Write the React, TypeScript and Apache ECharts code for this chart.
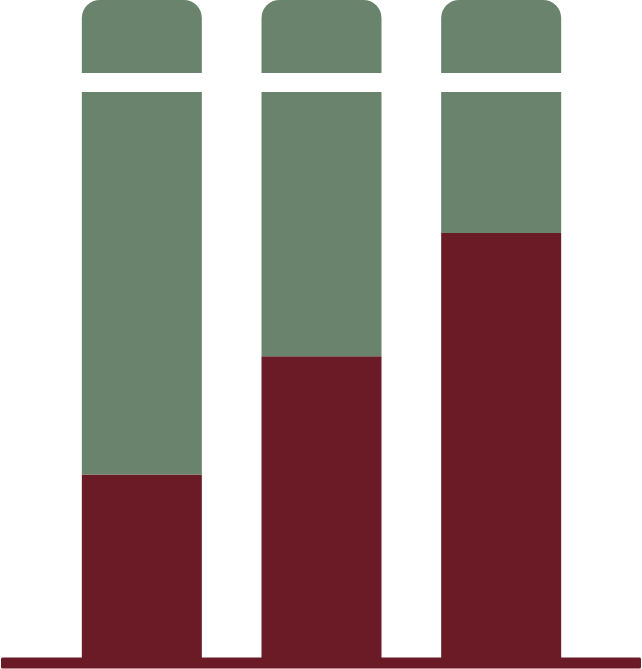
import React, { useEffect, useRef } from "react";
import * as echarts from "echarts";

const categories = ["A", "B", "C"];
const lowerValues = [33, 53.7, 75.3];
const upperValues = [67, 46.3, 24.7];
const gapValues = [3.3, 3.3, 3.3];
const capValues = [12.8, 12.8, 12.8];

const RED = "#6B1B25";
const GREEN = "#6A836D";

export default function App() {
  const ref = useRef<HTMLDivElement>(null);
  useEffect(() => {
    if (!ref.current) return;
    const chart = echarts.init(ref.current, null, { renderer: "svg" });
    chart.setOption({
      animation: false,
      grid: { left: 52, right: 51, top: 0, bottom: 6 },
      xAxis: {
        type: "category",
        data: categories,
        axisLine: { show: false },
        axisTick: { show: false },
        axisLabel: { show: false },
      },
      yAxis: {
        type: "value",
        min: 0,
        max: 116.1,
        show: false,
        splitLine: { show: false },
      },
      graphic: [
        {
          type: "rect",
          z: 1,
          shape: { x: 1, y: 657.5, width: 640, height: 11, r: 1.5 },
          style: { fill: RED },
        },
      ],
      series: [
        {
          type: "bar",
          stack: "s",
          barWidth: 120,
          data: lowerValues,
          itemStyle: { color: RED },
          z: 3,
        },
        {
          type: "bar",
          stack: "s",
          barWidth: 120,
          data: upperValues,
          itemStyle: { color: GREEN },
          z: 3,
        },
        {
          type: "bar",
          stack: "s",
          barWidth: 120,
          data: gapValues,
          itemStyle: { color: "rgba(0,0,0,0)" },
          z: 3,
        },
        {
          type: "bar",
          stack: "s",
          barWidth: 120,
          data: capValues,
          itemStyle: { color: GREEN, borderRadius: [18, 18, 0, 0] },
          z: 3,
        },
      ],
    });
    return () => chart.dispose();
  }, []);
  return (
    <div
      ref={ref}
      style={{ position: "fixed", left: 0, top: 0, width: 642, height: 669, background: "#fff" }}
    />
  );
}
